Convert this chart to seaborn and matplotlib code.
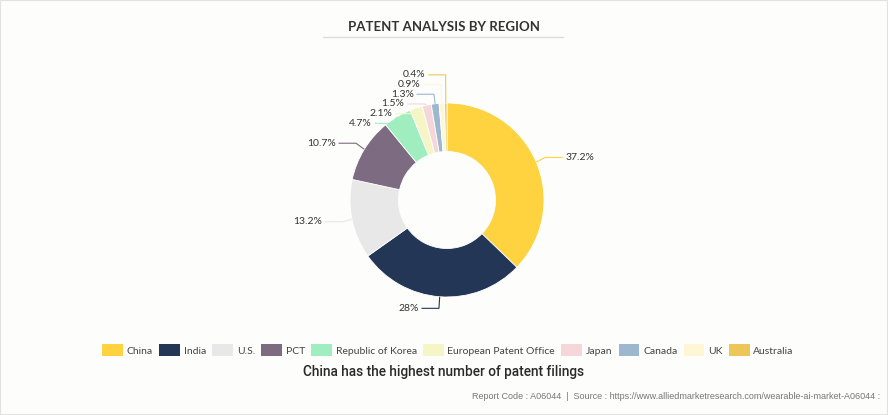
import numpy as np
import pandas as pd
import seaborn as sns
import matplotlib.pyplot as plt
from matplotlib.patches import Patch, Rectangle
from matplotlib.lines import Line2D

# veriler
regions = ["China", "India", "U.S.", "PCT", "Republic of Korea", "European Patent Office",
           "Japan", "Canada", "UK", "Australia"]
shares = [37.2, 28, 13.2, 10.7, 4.7, 2.1, 1.5, 1.3, 0.9, 0.4]
share_labels = ["37.2%", "28%", "13.2%", "10.7%", "4.7%", "2.1%", "1.5%", "1.3%", "0.9%", "0.4%"]
colors = ["#FFD23F", "#243656", "#E8E8E8", "#7D6B82", "#A0EDC0", "#F5F5C6",
          "#F7D6DA", "#9BB8CF", "#FFF6D6", "#EDC65A"]

df = pd.DataFrame({"region": regions, "share": shares, "label": share_labels})

sns.set_theme(style="white")
plt.rcParams['font.family'] = ['Lato', 'DejaVu Sans']
palette = sns.color_palette(colors)

fig = plt.figure(figsize=(8.88, 4.15), dpi=100, facecolor="#fdfdfc")
ax = fig.add_axes([253 / 888, 21 / 415, 388 / 888, 388 / 415])
ax.set_facecolor("#fdfdfc")

wedges, _ = ax.pie(df["share"], colors=palette, startangle=90, counterclock=False, radius=1,
                   wedgeprops=dict(width=0.5, edgecolor="white", linewidth=0.6))
ax.set_xlim(-2, 2)
ax.set_ylim(-2, 2)
ax.set_aspect("equal")
ax.axis("off")

# etiket yerleşimi
ang = np.array([np.deg2rad((w.theta1 + w.theta2) / 2) for w in wedges])
cx, cy = np.cos(ang), np.sin(ang)
ly = cy * 1.12
gap = 0.1
left = [i for i in range(len(ang)) if cx[i] < 0]
left = sorted(left, key=lambda i: ly[i])
for k in range(1, len(left)):  # yukarı doğru itme
    ly[left[k]] = max(ly[left[k]], ly[left[k - 1]] + gap)
ly[left[-1]] = min(ly[left[-1]], 1.29)
for k in range(len(left) - 2, -1, -1):  # tepeden aşağı sınırla
    ly[left[k]] = min(ly[left[k]], ly[left[k + 1]] - gap)

for i, w in enumerate(wedges):
    side = 1 if cx[i] >= 0 else -1
    ex = cx[i] * 1.1
    tx = ex + side * 0.18
    col = colors[i]
    ax.plot([cx[i], ex, tx], [cy[i], ly[i], ly[i]], color=col, lw=0.8, solid_capstyle="butt")
    ax.text(tx + side * 0.03, ly[i], df["label"][i], ha="left" if side > 0 else "right",
            va="center", fontsize=7.5, color="#333333")

# başlık
fig.text(0.5, 1 - 27 / 415, "PATENT ANALYSIS BY REGION", ha="center", va="center",
         fontsize=9.5, fontweight="bold", color="#333333")
fig.add_artist(Line2D([323 / 888, 563 / 888], [1 - 37 / 415, 1 - 37 / 415],
                      transform=fig.transFigure, color="#dddddd", lw=1))

# lejant
handles = [Patch(facecolor=c, edgecolor="none") for c in colors]
fig.legend(handles, regions, loc="center", bbox_to_anchor=(448 / 888, 1 - 350 / 415), ncol=10,
           frameon=False, fontsize=7.5, handlelength=2.0, handleheight=1.25, handletextpad=0.35,
           columnspacing=0.6, labelcolor="#444444")

fig.text(444 / 888, 1 - 372 / 415, "China has the highest number of patent filings", ha="center",
         va="center", fontsize=9.8, fontweight="medium", color="#2a2a2a", family="Roboto")
fig.text(880 / 888, 1 - 396 / 415,
         "Report Code : A06044  |  Source : https://www.alliedmarketresearch.com/wearable-ai-market-A06044 :",
         ha="right", va="center", fontsize=6.5, color="#777777", family="Liberation Sans")

fig.add_artist(Rectangle((0, 0), 1, 1, transform=fig.transFigure, fill=False,
                         edgecolor="#e2e2e2", lw=1.5))

fig.savefig("out.png", dpi=100, facecolor=fig.get_facecolor())
